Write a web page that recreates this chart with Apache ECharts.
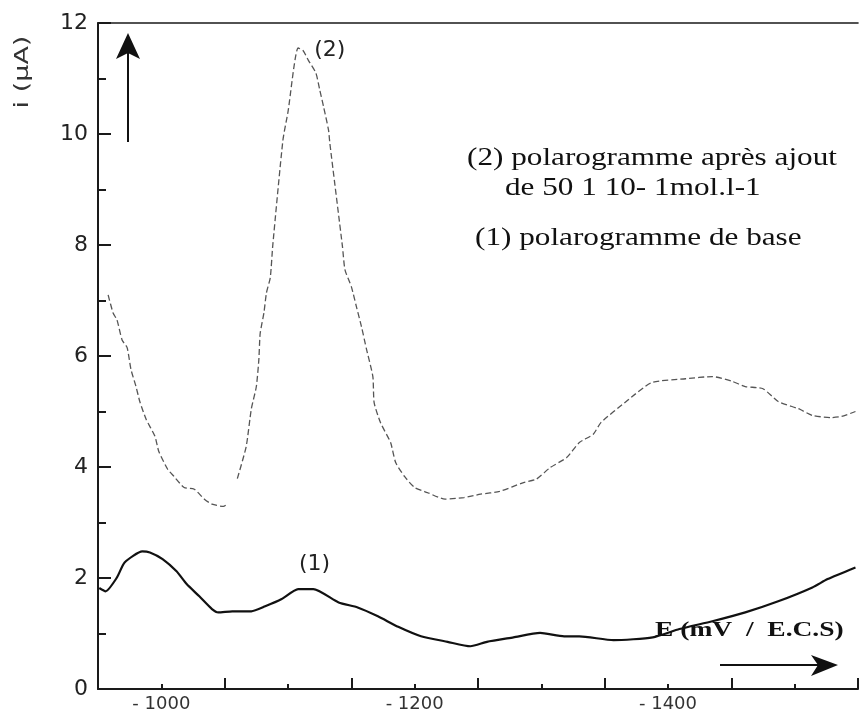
<!DOCTYPE html>
<html>
<head>
<meta charset="utf-8">
<title>Polarogrammes</title>
<script src="https://cdn.jsdelivr.net/npm/echarts@6/dist/echarts.min.js"></script>
<style>
  html, body { margin: 0; padding: 0; background: #ffffff; }
  #chart { width: 861px; height: 719px; }
</style>
</head>
<body>
<div id="chart"></div>
<script>
// (1) polarogramme de base : potentiel (mV / E.C.S) et courant (µA)
const potential1 = [-951, -956, -965, -971, -985, -991, -1001, -1012, -1020, -1030, -1040, -1045, -1056,
  -1071, -1082, -1095, -1108, -1120, -1140, -1155, -1171, -1187, -1205, -1226, -1244, -1257,
  -1278, -1299, -1318, -1330, -1357, -1388, -1409, -1435, -1461, -1487, -1514, -1526, -1548];
const current1 = [1.82, 1.76, 2.01, 2.28, 2.48, 2.46, 2.34, 2.12, 1.89, 1.67, 1.44, 1.38, 1.40,
  1.40, 1.49, 1.62, 1.80, 1.80, 1.56, 1.47, 1.31, 1.12, 0.95, 0.85, 0.77, 0.85,
  0.93, 1.01, 0.95, 0.95, 0.88, 0.93, 1.08, 1.22, 1.38, 1.58, 1.83, 1.98, 2.19];

// (2) polarogramme après ajout (null = levée de plume du tracé)
const potential2 = [-958, -962, -965, -969, -973, -976, -980, -983, -988, -995, -998, -1005, -1010,
  -1018, -1026, -1034, -1040, -1049, -1052, -1056,
  -1060, -1067, -1071, -1075, -1077, -1078, -1081, -1083, -1086, -1088, -1096, -1100, -1108,
  -1112, -1116, -1122, -1125, -1128, -1132, -1133, -1143, -1145, -1150, -1154, -1158, -1162,
  -1167, -1168, -1173, -1181, -1185, -1192, -1200, -1210, -1224, -1239, -1252, -1267, -1286,
  -1296, -1307, -1320, -1330, -1341, -1347, -1367, -1387, -1414, -1435, -1451, -1461, -1475,
  -1487, -1503, -1514, -1529, -1537, -1548];
const current2 = [7.10, 6.77, 6.65, 6.29, 6.15, 5.76, 5.45, 5.18, 4.86, 4.55, 4.28, 3.96, 3.83,
  3.63, 3.60, 3.42, 3.33, 3.29, 3.33, null,
  3.79, 4.37, 5.04, 5.45, 5.94, 6.40, 6.78, 7.14, 7.41, 8.00, 9.89, 10.40, 11.55,
  11.50, 11.33, 11.10, 10.80, 10.50, 10.07, 9.84, 7.97, 7.55, 7.25, 6.89, 6.53, 6.12,
  5.63, 5.16, 4.80, 4.44, 4.08, 3.83, 3.63, 3.54, 3.42, 3.45, 3.51, 3.56, 3.72,
  3.78, 3.99, 4.17, 4.44, 4.59, 4.80, 5.18, 5.52, 5.59, 5.63, 5.54, 5.45, 5.41,
  5.18, 5.05, 4.93, 4.89, 4.91, 5.00];

// Axis extents and labelled ticks
const potentialRange = [-1550, -950];
const currentRange = [0, 12];
const labelledPotentials = [-1000, -1200, -1400];

// Curve tags, placed in data space next to each curve
const curveTags = [
  { text: '(1)', at: [-1121, 2.24] },
  { text: '(2)', at: [-1133, 11.5] }
];

const zip = (xs, ys) => xs.map((x, i) => [x, ys[i]]);

const chart = echarts.init(document.getElementById('chart'), null, { renderer: 'canvas' });

const ink = '#1a1a1a';

const potentialAxisBase = {
  type: 'value', inverse: true,
  min: potentialRange[0], max: potentialRange[1],
  splitLine: { show: false }
};

const option = {
  backgroundColor: '#ffffff',
  animation: false,
  grid: { left: 98, right: -2, top: 23, bottom: 30 },
  xAxis: [
    Object.assign({}, potentialAxisBase, {
      position: 'bottom', interval: 50,
      axisLine: { show: true, lineStyle: { color: ink, width: 2 } },
      axisTick: { show: true, inside: true, length: 5, lineStyle: { color: ink, width: 2 } },
      axisLabel: {
        show: true, margin: 6, color: '#333', fontFamily: 'DejaVu Sans', fontSize: 18,
        formatter: v => labelledPotentials.indexOf(v) >= 0 ? '- ' + Math.abs(v) : ''
      }
    }),
    Object.assign({}, potentialAxisBase, {
      position: 'bottom', interval: 100,
      axisLine: { show: false },
      axisTick: { show: true, inside: true, length: 11, lineStyle: { color: ink, width: 2 } },
      axisLabel: { show: false }
    }),
    // frame line along the top of the plot
    Object.assign({}, potentialAxisBase, {
      position: 'top', interval: 100,
      axisLine: { show: true, lineStyle: { color: ink, width: 1.6 } },
      axisTick: { show: false },
      axisLabel: { show: false }
    })
  ],
  yAxis: {
    type: 'value', min: currentRange[0], max: currentRange[1], interval: 2,
    axisLine: { show: true, lineStyle: { color: ink, width: 2 } },
    axisTick: { show: true, inside: true, length: 13, lineStyle: { color: ink, width: 2 } },
    minorTick: { show: true, splitNumber: 2, length: 8, lineStyle: { color: ink, width: 2 } },
    axisLabel: { margin: 10, color: '#222', fontFamily: 'DejaVu Sans', fontSize: 22 },
    splitLine: { show: false }
  },
  series: [
    {
      name: '(1) polarogramme de base', type: 'line', xAxisIndex: 0,
      data: zip(potential1, current1), showSymbol: false, smooth: 0.2,
      lineStyle: { color: '#111', width: 2.2 }
    },
    {
      name: '(2) polarogramme après ajout', type: 'line', xAxisIndex: 0,
      data: zip(potential2, current2), showSymbol: false, smooth: 0.2, connectNulls: false,
      lineStyle: { color: '#555', width: 1.3, type: [6, 3] }
    }
  ]
};

chart.setOption(option);

// Annotations: axis name, notes, arrows and curve tags
const px = p => chart.convertToPixel({ gridIndex: 0 }, p);
const serif = 'Liberation Serif';

const graphics = [
  {
    type: 'text', x: 23, y: 72, rotation: Math.PI / 2, scaleX: 1.35,
    style: { text: 'i (µA)', font: '20px "DejaVu Sans"', fill: '#333', align: 'center', verticalAlign: 'middle' }
  },
  {
    type: 'text', x: 467, y: 158, scaleX: 1.2,
    style: { text: '(2) polarogramme après ajout', font: '26px "' + serif + '"', fill: '#111', align: 'left', verticalAlign: 'middle' }
  },
  {
    type: 'text', x: 505, y: 188, scaleX: 1.2,
    style: { text: 'de 50 1 10- 1mol.l-1', font: '26px "' + serif + '"', fill: '#111', align: 'left', verticalAlign: 'middle' }
  },
  {
    type: 'text', x: 475, y: 238, scaleX: 1.2,
    style: { text: '(1) polarogramme de base', font: '26px "' + serif + '"', fill: '#111', align: 'left', verticalAlign: 'middle' }
  },
  {
    type: 'text', x: 655, y: 630, scaleX: 1.25,
    style: { text: 'E (mV  /  E.C.S)', font: 'bold 22px "' + serif + '"', fill: '#111', align: 'left', verticalAlign: 'middle' }
  },
  // vertical arrow (current)
  { type: 'line', shape: { x1: 128, y1: 142, x2: 128, y2: 52 }, style: { stroke: '#111', lineWidth: 2 } },
  { type: 'polygon', shape: { points: [[128, 33], [140, 59], [128, 53], [116, 59]] }, style: { fill: '#111' } },
  // horizontal arrow (potential)
  { type: 'line', shape: { x1: 720, y1: 665, x2: 818, y2: 665 }, style: { stroke: '#111', lineWidth: 2 } },
  { type: 'polygon', shape: { points: [[838, 665], [811, 655], [818, 665], [811, 676]] }, style: { fill: '#111' } }
];

curveTags.forEach(t => {
  const p = px(t.at);
  graphics.push({
    type: 'text', x: p[0], y: p[1],
    style: { text: t.text, font: '22px "DejaVu Sans"', fill: '#222', align: 'center', verticalAlign: 'middle' }
  });
});

chart.setOption({ graphic: graphics });
</script>
</body>
</html>
